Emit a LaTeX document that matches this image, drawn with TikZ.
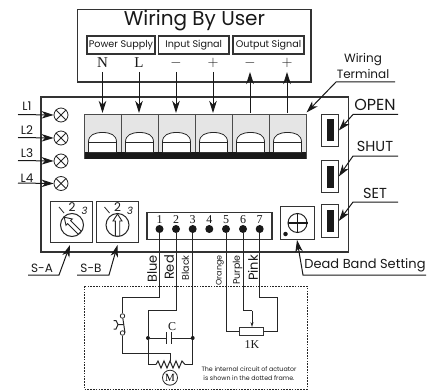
\documentclass[tikz,border=0pt]{standalone}
\usepackage{fontspec}
\setmainfont{Poppins}
\newfontfamily\serifnum{Liberation Serif}
\usetikzlibrary{arrows.meta}
\tikzset{
    wire/.style={line width=1pt, draw=black!85},
    leader/.style={line width=1pt, draw=black!90, -{Stealth[length=12pt, width=7.5pt, inset=3.5pt]}},
    plate/.style={draw=black!80, line width=1.1pt, inner sep=0pt, fill=white},
    lamp/.style={circle, draw=black!85, line width=0.8pt, minimum size=14pt, inner sep=0pt},
    pin/.style={circle, fill=black!90, minimum size=8pt, inner sep=0pt},
    joint/.style={circle, fill=black!90, minimum size=4pt, inner sep=0pt},
    contact/.style={circle, draw=black!85, fill=white, line width=0.8pt, minimum size=4.5pt, inner sep=0pt},
    tag/.style={inner sep=0pt, font=\fontsize{11}{11}\selectfont, text=black!90},
    num/.style={inner sep=0pt, font=\serifnum\fontsize{11}{11}\selectfont, text=black!90}
}
\begin{document}
\begin{tikzpicture}[x=1pt, y=-1pt]
    \useasboundingbox (0,0) rectangle (438,390);

    % 1. Wiring box on top
    \node[plate, minimum width=233.5pt, minimum height=72.5pt] (user) at (194.25,45.75) {};
    \node[inner sep=0pt, font=\fontsize{20}{20}\selectfont, text=black!90] (title) at (194.5,21) {Wiring By User};
    \node[plate, minimum width=68pt, minimum height=18pt] (power) at (121,45) {};
    \node[plate, minimum width=70.5pt, minimum height=18pt] (input) at (193.75,45) {};
    \node[plate, minimum width=71pt, minimum height=18pt] (output) at (268.5,45) {};
    \node[tag, font=\fontsize{9.6}{10}\selectfont] at (power) {Power Supply};
    \node[tag, font=\fontsize{9.6}{10}\selectfont] at (input) {Input Signal};
    \node[tag, font=\fontsize{9.6}{10}\selectfont] at (output) {Output Signal};

    % 2. Actuator body
    \node[plate, line width=1.5pt, minimum width=307.5pt, minimum height=154.5pt] (body) at (194.75,174.5) {};

    % 3. Terminal block
    \fill[black!10] (84.5,114) rectangle (306,152);
    \fill[black!90] (84.5,152) rectangle (306,159);
    \draw[black!70, line width=0.9pt] (84.5,159) -- (84.5,114) -- (306,114) -- (306,159);
    \foreach \n/\x/\lab in {1/102.5/N, 2/139/L, 3/176/$-$, 4/213/$+$, 5/250/$-$, 6/287/$+$} {
        \node[num, font=\serifnum\fontsize{15}{15}\selectfont] (sign\n) at (\x,62.5) {\lab};
        \coordinate (top\n) at (\x,72);
        \coordinate (cell\n) at (\x,113);
    }
    \foreach \x in {121,158,195,232,269}
        \draw[black!70, line width=0.9pt] (\x,114) -- (\x,152);
    \foreach \x in {88.5,125.5,162.5,199.5,236.5,273.5} {
        \fill[white] (\x,152) -- (\x,142) .. controls (\x,135) and (\x+6,132.5) .. (\x+14,132.5)
            .. controls (\x+22,132.5) and (\x+28,135) .. (\x+28,142) -- (\x+28,152) -- cycle;
        \draw[black!85, line width=0.8pt] (\x,152) -- (\x,142) .. controls (\x,135) and (\x+6,132.5) .. (\x+14,132.5)
            .. controls (\x+22,132.5) and (\x+28,135) .. (\x+28,142) -- (\x+28,152);
        \draw[black!85, line width=0.8pt] (\x,142.5) -- (\x+28,142.5);
    }
    \foreach \n in {1,2,3,4}
        \draw[leader] (top\n) -- (cell\n);
    \foreach \n in {5,6}
        \draw[leader] (cell\n) -- (top\n);

    % 4. Lamps L1 to L4
    \foreach \n/\y/\ty in {1/115/106, 2/138/130, 3/161/153, 4/183.5/178} {
        \node[lamp] (lamp\n) at (61,\y) {};
        \draw[black!85, line width=0.8pt] (lamp\n.45) -- (lamp\n.225) (lamp\n.135) -- (lamp\n.315);
        \node[tag, font=\fontsize{12}{12}\selectfont] (tagL\n) at (27,\ty) {L\n};
        \coordinate (startL\n) at (18,\y-0.5);
        \draw[leader] (startL\n) -- (lamp\n.west);
    }

    % 5. Push buttons on the right
    \foreach \name/\y/\ty/\ly/\fs in {OPEN/130.5/105/114.5/16, SHUT/176.5/146/156/14.5, SET/221/193/202/14.5} {
        \node[plate, minimum width=16.5pt, minimum height=32.5pt] (\name) at (330,\y) {};
        \fill[black!90] (327,\y-11) rectangle (334,\y+11);
        \node[tag, font=\fontsize{\fs}{\fs}\selectfont] at (375,\ty) {\name};
        \coordinate (end\name) at (398,\ly);
        \coordinate (bend\name) at (353,\ly);
        \draw[leader] (end\name) -- (bend\name) -- (\name.east);
    }

    % 6. Wiring terminal label
    \node[tag, align=center, font=\fontsize{12}{15.5}\selectfont] (wiring) at (363,66) {Wiring\\Terminal};
    \coordinate (endW) at (395,82);
    \coordinate (bendW) at (336,82);
    \coordinate (blockW) at (306.5,112.5);
    \draw[leader] (endW) -- (bendW) -- (blockW);

    % 7. Rotary switches
    \node[plate, minimum width=42pt, minimum height=41.5pt] (swA) at (71.5,222) {};
    \node[plate, minimum width=42pt, minimum height=41.5pt] (swB) at (117.5,222) {};
    \foreach \s/\x/\ang in {A/72/45, B/117.5/0} {
        \node[circle, draw=black!85, line width=1pt, minimum size=23pt, inner sep=0pt] (knob\s) at (\x,225) {};
        \node[tag, font=\fontsize{12}{12}\selectfont] at (\x,207.5) {2};
        \node[tag, font=\fontsize{10}{10}\itshape] at (\x+12.5,211) {3};
        \draw[black!85, line width=0.8pt] (\x-13,207) -- (\x-8,213);
        \begin{scope}[shift={(\x,225)}, rotate=\ang]
            % hollow pointer
            \draw[black!85, line width=0.9pt, fill=white] (0,-11) -- (4.5,-4) -- (2.2,-4) -- (2.2,11) -- (-2.2,11) -- (-2.2,-4) -- (-4.5,-4) -- cycle;
        \end{scope}
    }
    \coordinate (markA) at (70,245);
    \coordinate (kneeA) at (59,275);
    \coordinate (startA) at (28,275);
    \coordinate (markB) at (117.5,245);
    \coordinate (kneeB) at (109,275);
    \coordinate (startB) at (77,275);
    \draw[leader] (startA) -- (kneeA) -- (markA);
    \draw[leader] (startB) -- (kneeB) -- (markB);
    \node[tag, font=\fontsize{12}{12}\selectfont] at (42,268) {S-A};
    \node[tag, font=\fontsize{12}{12}\selectfont] at (91,268) {S-B};

    % 8. Strip with pins 1 to 7
    \node[plate, minimum width=125pt, minimum height=26.5pt] (strip) at (209.5,226) {};
    \foreach \n/\x in {1/159.5, 2/176, 3/192.7, 4/209.3, 5/226, 6/243, 7/259.7} {
        \node[num, font=\serifnum\fontsize{12}{12}\selectfont] at (\x,219.5) {\n};
        \node[pin] (pin\n) at (\x,229) {};
    }

    % 9. Dead band setting
    \node[plate, minimum width=33.5pt, minimum height=32.5pt] (dead) at (297.5,223) {};
    \node[circle, draw=black!85, line width=1pt, minimum size=19pt, inner sep=0pt] (screw) at (297.5,223) {};
    \draw[black!90, line width=1.8pt] (screw.west) -- (screw.east) (screw.north) -- (screw.south);
    \node[circle, fill=black!90, minimum size=4.5pt, inner sep=0pt] (deaddot) at (285.5,234) {};
    \node[tag, font=\fontsize{13}{13}\selectfont] at (365,265) {Dead Band Setting};
    \coordinate (endD) at (426,275);
    \coordinate (kneeD) at (303,275);
    \coordinate (markD) at (297,240);
    \draw[leader] (endD) -- (kneeD) -- (markD);

    % 10. Wire colours
    \node[tag, rotate=90, font=\fontsize{13}{13}\selectfont, anchor=east] at (152,255) {Blue};
    \node[tag, rotate=90, font=\fontsize{13}{13}\selectfont, anchor=east] at (169,255) {Red};
    \node[tag, rotate=90, font=\fontsize{9.5}{9.5}\selectfont, anchor=east] at (185.5,255) {Black};
    \node[tag, rotate=90, font=\fontsize{8}{8}\selectfont, anchor=east] at (220,255) {Orange};
    \node[tag, rotate=90, font=\fontsize{9.5}{9.5}\selectfont, anchor=east] at (237.5,255) {Purple};
    \node[tag, rotate=90, font=\fontsize{13}{13}\selectfont, anchor=east] at (253,255) {Pink};

    % 11. Dotted frame and circuit
    \draw[black!85, line width=0.8pt, dash pattern=on 1.6pt off 1.2pt] (84,286) rectangle (307,389);

    \node[contact] (swtop) at (122.5,316) {};
    \node[contact] (swbot) at (122.5,333) {};
    \coordinate (wipe) at (170,361);
    \coordinate (resL) at (156,364.5);
    \coordinate (resR) at (185,364.5);
    \node[joint] (capL) at (148,338) {};
    \node[joint] (capR) at (192.7,338) {};
    \coordinate (plateL) at (166.5,338);
    \coordinate (plateR) at (171.5,338);

    \draw[wire] (pin1) |- (122.5,297.5) -- (swtop);
    \draw[wire] (swbot) |- (170,353.5) -- (wipe);
    \draw[wire] (pin2) |- (148,310.7) -- (capL) |- (resL);
    \draw[wire] (pin3) -- (capR) |- (resR);
    \draw[wire] (capL) -- (plateL) (capR) -- (plateR);
    \draw[wire, line width=1.1pt] (166.5,332) -- (166.5,344) (171.5,332) -- (171.5,344);
    \node[num, font=\serifnum\fontsize{12}{12}\selectfont] at (172,327) {C};

    % switch blade and button
    \draw[wire] (swtop) -- (125,333);
    \draw[wire] (123.5,324.5) -- (118,324.5) -- (116,320.5) -- (113.5,320.5) (118,324.5) -- (116,329) -- (113.5,329);

    % motor winding
    \draw[wire] (resL) -- ++(2,-3.5) -- ++(3,7) -- ++(3,-7) -- ++(3,7) -- ++(3,-7) -- ++(3,7) -- ++(3,-7) -- ++(3,7) -- ++(3,-7) -- (resR);
    \node[circle, draw=black!85, line width=0.8pt, minimum size=15pt, inner sep=0pt, font=\serifnum\fontsize{11}{11}\selectfont] (motor) at (170,377.7) {M};

    % potentiometer
    \node[plate, line width=0.9pt, minimum width=24pt, minimum height=7.5pt] (pot) at (251.7,331.3) {};
    \draw[wire] (pin5) |- (pot.west);
    \draw[wire] (pot.east) -| (277.7,297.5) -| (pin7);
    \draw[wire] (pin6) |- (252,310.7);
    \draw[wire, -{Stealth[length=5pt, width=3pt]}] (252,310.7) -- (pot.north -| 252,0);
    \node[num, font=\serifnum\fontsize{12}{12}\selectfont] at (252,345) {1K};

    % note
    \node[tag, align=center, font=\fontsize{6.3}{9}\selectfont] (note) at (249,373.5) {The internal circuit of actuator\\is shown in the dotted frame.};
\end{tikzpicture}
\end{document}
